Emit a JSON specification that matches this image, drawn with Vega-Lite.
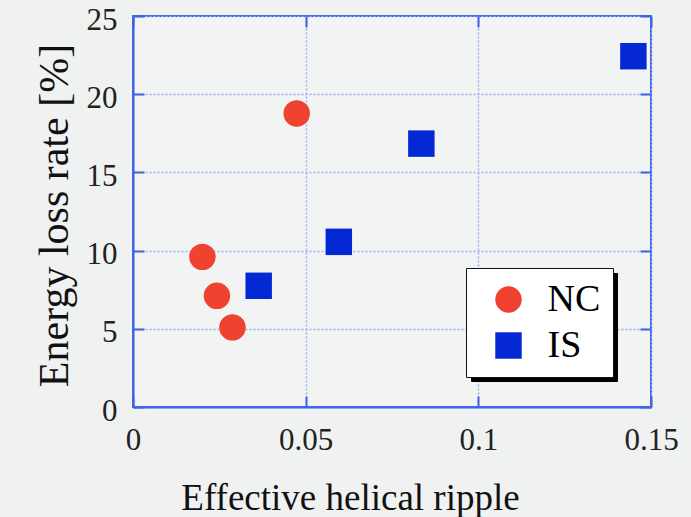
{
  "$schema": "https://vega.github.io/schema/vega-lite/v6.json",
  "width": 518,
  "height": 391,
  "autosize": {"type": "none"},
  "padding": {"left": 133, "top": 16, "right": 40, "bottom": 110},
  "background": "#f0f1f1",
  "config": {
    "view": {"stroke": "#3f63e6", "strokeWidth": 2, "fill": "#f2f3f3"},
    "font": "Liberation Serif"
  },
  "data": {
    "values": [
      {"type": "NC", "ripple": 0.0474, "loss": 18.77},
      {"type": "NC", "ripple": 0.0201, "loss": 9.6},
      {"type": "NC", "ripple": 0.0243, "loss": 7.11},
      {"type": "NC", "ripple": 0.0288, "loss": 5.09},
      {"type": "IS", "ripple": 0.0364, "loss": 7.75},
      {"type": "IS", "ripple": 0.0596, "loss": 10.56},
      {"type": "IS", "ripple": 0.0835, "loss": 16.84},
      {"type": "IS", "ripple": 0.1449, "loss": 22.43}
    ]
  },
  "layer": [
    {
      "mark": {"type": "point", "filled": true, "opacity": 1, "size": 700, "strokeWidth": 0},
      "encoding": {
        "x": {
          "field": "ripple", "type": "quantitative",
          "scale": {"domain": [0, 0.15], "nice": false},
          "axis": {
            "orient": "bottom", "values": [0, 0.05, 0.1, 0.15], "labelExpr": "datum.value + ''",
            "title": "Effective helical ripple",
            "titleFont": "Liberation Serif", "titleFontSize": 37, "titleFontWeight": "normal", "titleColor": "#111",
            "titleX": 217, "titleY": 102, "titleAlign": "center", "titleBaseline": "alphabetic", "titleAnchor": null,
            "labelFont": "Liberation Serif", "labelFontSize": 31, "labelColor": "#222", "labelPadding": 29,
            "labelFlush": false, "labelOverlap": false,
            "domain": true, "domainColor": "#3f63e6", "domainWidth": 2,
            "ticks": true, "tickSize": -11, "tickColor": "#3f63e6", "tickWidth": 2,
            "grid": true, "gridColor": "#9aaef0", "gridWidth": 1.5, "gridDash": [2, 2]
          }
        },
        "y": {
          "field": "loss", "type": "quantitative",
          "scale": {"domain": [0, 25], "nice": false},
          "axis": {
            "orient": "left", "values": [0, 5, 10, 15, 20, 25],
            "title": "Energy loss rate [%]",
            "titleFont": "Liberation Serif", "titleFontSize": 42, "titleFontWeight": "normal", "titleColor": "#111",
            "titleAngle": 270, "titleX": -66, "titleY": 199, "titleAlign": "center", "titleBaseline": "alphabetic", "titleAnchor": null,
            "labelFont": "Liberation Serif", "labelFontSize": 31, "labelColor": "#222", "labelPadding": 27, "labelOffset": 4,
            "labelFlush": false, "labelOverlap": false,
            "domain": true, "domainColor": "#3f63e6", "domainWidth": 2,
            "ticks": true, "tickSize": -11, "tickColor": "#3f63e6", "tickWidth": 2,
            "grid": true, "gridColor": "#9aaef0", "gridWidth": 1.5, "gridDash": [2, 2]
          }
        },
        "fill": {
          "field": "type", "type": "nominal",
          "scale": {"domain": ["NC", "IS"], "range": ["#ef4230", "#0328d4"]},
          "legend": {
            "orient": "none", "legendX": 333, "legendY": 252, "title": null,
            "fillColor": "white", "strokeColor": "#111", "padding": 12.5,
            "symbolSize": 700, "symbolOffset": 11, "labelOffset": 20,
            "labelFontSize": 38, "labelFont": "Liberation Serif", "rowPadding": 8, "zindex": 2,
            "symbolStrokeWidth": 0,
            "encode": {"labels": {"update": {"fill": {"signal": "datum.value === 'NC' ? '#ef4230' : '#0328d4'"}}}}
          }
        },
        "shape": {
          "field": "type", "type": "nominal",
          "scale": {"domain": ["NC", "IS"], "range": ["circle", "square"]},
          "legend": {
            "orient": "none", "legendX": 333, "legendY": 252, "title": null,
            "fillColor": "white", "strokeColor": "#111", "padding": 12.5,
            "symbolSize": 700, "symbolOffset": 11, "labelOffset": 20,
            "labelFontSize": 38, "labelFont": "Liberation Serif", "rowPadding": 8, "zindex": 2,
            "symbolStrokeWidth": 0,
            "encode": {"labels": {"update": {"fill": {"signal": "datum.value === 'NC' ? '#ef4230' : '#0328d4'"}}}}
          }
        }
      }
    },
    {
      "mark": {"type": "point", "filled": true, "opacity": 0},
      "encoding": {
        "x": {
          "field": "ripple", "type": "quantitative",
          "scale": {"domain": [0, 0.15], "nice": false},
          "axis": {
            "orient": "top", "values": [0, 0.05, 0.1, 0.15], "title": null,
            "labels": false, "domain": false, "grid": false,
            "ticks": true, "tickSize": -11, "tickColor": "#3f63e6", "tickWidth": 2
          }
        },
        "y": {
          "field": "loss", "type": "quantitative",
          "scale": {"domain": [0, 25], "nice": false},
          "axis": {
            "orient": "right", "values": [0, 5, 10, 15, 20, 25], "title": null,
            "labels": false, "domain": false, "grid": false,
            "ticks": true, "tickSize": -11, "tickColor": "#3f63e6", "tickWidth": 2
          }
        },
        "color": {
          "field": "type", "type": "nominal",
          "scale": {"domain": ["IS", "NC"], "range": ["#000000", "#000000"]},
          "legend": {
            "orient": "none", "legendX": 338, "legendY": 257, "title": null,
            "fillColor": "black", "strokeColor": "black", "padding": 12.5,
            "symbolSize": 1444, "symbolOffset": 11, "labelOffset": 70,
            "labelExpr": "''",
            "labelFontSize": 38, "labelFont": "Liberation Serif", "rowPadding": 5, "zindex": 1,
            "symbolOpacity": 0, "labelOpacity": 0
          }
        }
      }
    }
  ],
  "resolve": {"axis": {"x": "independent", "y": "independent"}}
}
